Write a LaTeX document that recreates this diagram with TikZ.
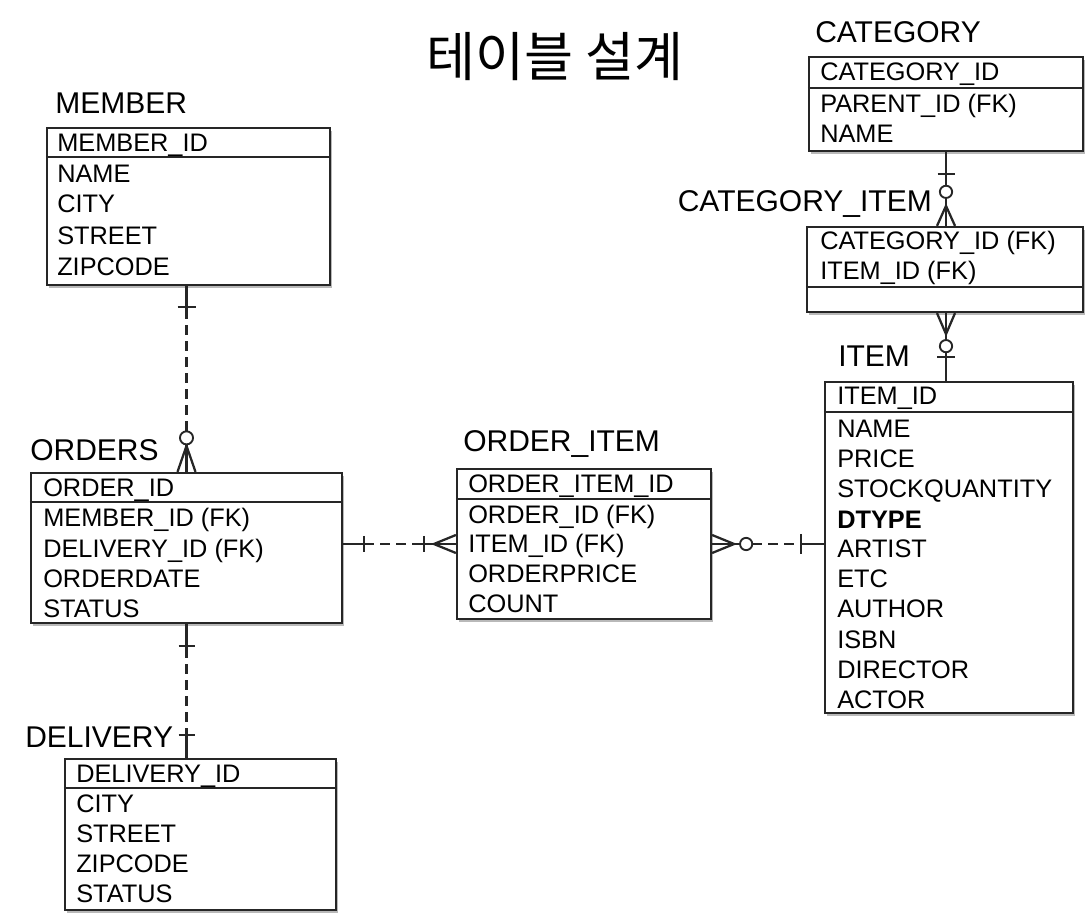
\documentclass[tikz,border=0pt]{standalone}
\usepackage{fontspec}
\setmainfont{Liberation Sans}
\newfontfamily\krfont{Noto Sans CJK KR}
\usetikzlibrary{calc,fit,shadows}
\begin{document}
\begin{tikzpicture}[x=0.75pt,y=-0.75pt,
  entbox/.style={draw=black!85, line width=1.7pt, fill=white, inner sep=0pt,
    drop shadow={shadow xshift=1.3pt, shadow yshift=-2pt, fill=black!50, opacity=0.55}},
  divline/.style={draw=black!85, line width=1.7pt},
  row/.style={anchor=base west, inner sep=0pt, font=\fontsize{19}{22}\selectfont},
  lbl/.style={anchor=base west, inner sep=0pt, font=\fontsize{22.5}{26}\selectfont},
  conn/.style={draw=black!85, line width=1.7pt},
  dashline/.style={conn, dash pattern=on 7.5pt off 4.5pt},
  ringmark/.style={conn, line width=1.4pt, fill=white}
]
\useasboundingbox (0,0) rectangle (1086,923);

% Title
\node[font=\krfont\fontsize{40}{44}\selectfont, inner sep=0pt] (title) at (555,57) {테이블 설계};

% ---------- Entities ----------
% MEMBER
\node[entbox, fit={(47,128) (330,285)}] (member) {};
\draw[divline] (member.west |- 0,157) -- (member.east |- 0,157);
\foreach \t/\y [count=\i] in {{MEMBER\_ID}/143,{NAME}/174,{CITY}/204,{STREET}/236,{ZIPCODE}/267}
  \node[row] (member-\i) at (57,\y+9) {\t};
\node[lbl] (memberlbl) at (55,103+10.7) {MEMBER};

% ORDERS
\node[entbox, fit={(31,473) (342,623)}] (orders) {};
\draw[divline] (orders.west |- 0,502) -- (orders.east |- 0,502);
\foreach \t/\y [count=\i] in {{ORDER\_ID}/488,{MEMBER\_ID (FK)}/518,{DELIVERY\_ID (FK)}/548,{ORDERDATE}/578,{STATUS}/608}
  \node[row] (orders-\i) at (43,\y+9) {\t};
\node[lbl] (orderslbl) at (30,450+10.7) {ORDERS};

% ORDER_ITEM
\node[entbox, fit={(457,469) (711,619)}] (orderitem) {};
\draw[divline] (orderitem.west |- 0,499) -- (orderitem.east |- 0,499);
\foreach \t/\y [count=\i] in {{ORDER\_ITEM\_ID}/484,{ORDER\_ID (FK)}/514,{ITEM\_ID (FK)}/544,{ORDERPRICE}/574,{COUNT}/604}
  \node[row] (orderitem-\i) at (468,\y+9) {\t};
\node[lbl] (orderitemlbl) at (463,441+10.7) {ORDER\_ITEM};

% DELIVERY
\node[entbox, fit={(65,759) (336,910)}] (delivery) {};
\draw[divline] (delivery.west |- 0,788) -- (delivery.east |- 0,788);
\foreach \t/\y [count=\i] in {{DELIVERY\_ID}/773,{CITY}/803,{STREET}/833,{ZIPCODE}/863,{STATUS}/893}
  \node[row] (delivery-\i) at (76,\y+9) {\t};
\node[lbl] (deliverylbl) at (25,737+10.7) {DELIVERY};

% CATEGORY
\node[entbox, fit={(809,57) (1083,151)}] (category) {};
\draw[divline] (category.west |- 0,88) -- (category.east |- 0,88);
\foreach \t/\y [count=\i] in {{CATEGORY\_ID}/72,{PARENT\_ID (FK)}/104,{NAME}/134}
  \node[row] (category-\i) at (820,\y+9) {\t};
\node[lbl] (categorylbl) at (815,32+10.7) {CATEGORY};

% CATEGORY_ITEM
\node[entbox, fit={(807,227) (1083,312)}] (catitem) {};
\draw[divline] (catitem.west |- 0,287) -- (catitem.east |- 0,287);
\foreach \t/\y [count=\i] in {{CATEGORY\_ID (FK)}/241,{ITEM\_ID (FK)}/271}
  \node[row] (catitem-\i) at (820,\y+9) {\t};
\node[lbl, anchor=base east] (catitemlbl) at (932,201+10.7) {CATEGORY\_ITEM};

% ITEM
\node[entbox, fit={(825,382) (1073,713)}] (item) {};
\draw[divline] (item.west |- 0,412) -- (item.east |- 0,412);
\foreach \t/\y [count=\i] in {{ITEM\_ID}/396,{NAME}/429,{PRICE}/459,{STOCKQUANTITY}/489,{\textbf{DTYPE}}/519,{ARTIST}/549,{ETC}/579,{AUTHOR}/609,{ISBN}/639,{DIRECTOR}/669,{ACTOR}/699}
  \node[row] (item-\i) at (837,\y+9) {\t};
\node[lbl] (itemlbl) at (838,356+10.7) {ITEM};

% ---------- Connectors ----------
% MEMBER -- ORDERS (one to zero-or-many)
\coordinate (c1a) at (orders.north |- member.south);
\draw[conn] (c1a) -- ++(0,23);
\draw[conn] ($(c1a)+(-9,21)$) -- ++(18,0);
\draw[dashline] ($(c1a)+(0,23)$) -- ($(orders.north)+(0,-40.5)$);
\draw[conn] (orders.north) -- ($(orders.north)+(0,-28)$);
\draw[conn] ($(orders.north)+(-9,0)$) -- ($(orders.north)+(0,-26)$) -- ($(orders.north)+(9,0)$);
\draw[ringmark] ($(orders.north)+(0,-34)$) circle[radius=4.9pt];

% ORDERS -- ORDER_ITEM (one to one-or-many)
\coordinate (c2a) at (orders.east |- orderitem.west);
\draw[conn] (c2a) -- ++(21,0);
\draw[conn] ($(c2a)+(21,-8)$) -- ++(0,16);
\draw[dashline] ($(c2a)+(21,0)$) -- ($(orderitem.west)+(-37,0)$);
\draw[conn] ($(orderitem.west)+(-37,0)$) -- (orderitem.west);
\draw[conn] ($(orderitem.west)+(-32,-8)$) -- ++(0,16);
\draw[conn] ($(orderitem.west)+(0,-9)$) -- ($(orderitem.west)+(-22,0)$) -- ($(orderitem.west)+(0,9)$);

% ORDER_ITEM -- ITEM (zero-or-many to one)
\coordinate (c3b) at (item.west |- orderitem.east);
\draw[conn] (orderitem.east) -- ($(orderitem.east)+(28,0)$);
\draw[conn] ($(orderitem.east)+(0,-9)$) -- ($(orderitem.east)+(22,0)$) -- ($(orderitem.east)+(0,9)$);
\draw[ringmark] ($(orderitem.east)+(34,0)$) circle[radius=4.6pt];
\draw[dashline] ($(orderitem.east)+(40,0)$) -- ($(c3b)+(-23,0)$);
\draw[conn] ($(c3b)+(-23,0)$) -- (c3b);
\draw[conn] ($(c3b)+(-23,-10)$) -- ++(0,20);

% CATEGORY -- CATEGORY_ITEM (one to zero-or-many)
\coordinate (c4b) at (category.south |- catitem.north);
\draw[conn] (category.south) -- (c4b);
\draw[conn] ($(category.south)+(-8.5,22)$) -- ++(17,0);
\draw[conn] ($(c4b)+(-9,0)$) -- ($(c4b)+(0,-20)$) -- ($(c4b)+(9,0)$);
\draw[ringmark] ($(c4b)+(0,-34)$) circle[radius=4.6pt];

% CATEGORY_ITEM -- ITEM (zero-or-many to one)
\coordinate (c5a) at (catitem.south -| category.south);
\coordinate (c5b) at (item.north -| category.south);
\draw[conn] (c5a) -- (c5b);
\draw[conn] ($(c5a)+(-9,0)$) -- ($(c5a)+(0,21)$) -- ($(c5a)+(9,0)$);
\draw[ringmark] ($(c5a)+(0,33)$) circle[radius=4.6pt];
\draw[conn] ($(c5b)+(-9,-24)$) -- ++(18,0);

% ORDERS -- DELIVERY (one to one)
\coordinate (c6b) at (orders.south |- delivery.north);
\draw[conn] (orders.south) -- ++(0,24);
\draw[conn] ($(orders.south)+(-8,22)$) -- ++(16,0);
\draw[dashline] ($(orders.south)+(0,24)$) -- ($(c6b)+(0,-24)$);
\draw[conn] ($(c6b)+(0,-24)$) -- (c6b);
\draw[conn] ($(c6b)+(-8,-23)$) -- ++(16,0);
\end{tikzpicture}
\end{document}
